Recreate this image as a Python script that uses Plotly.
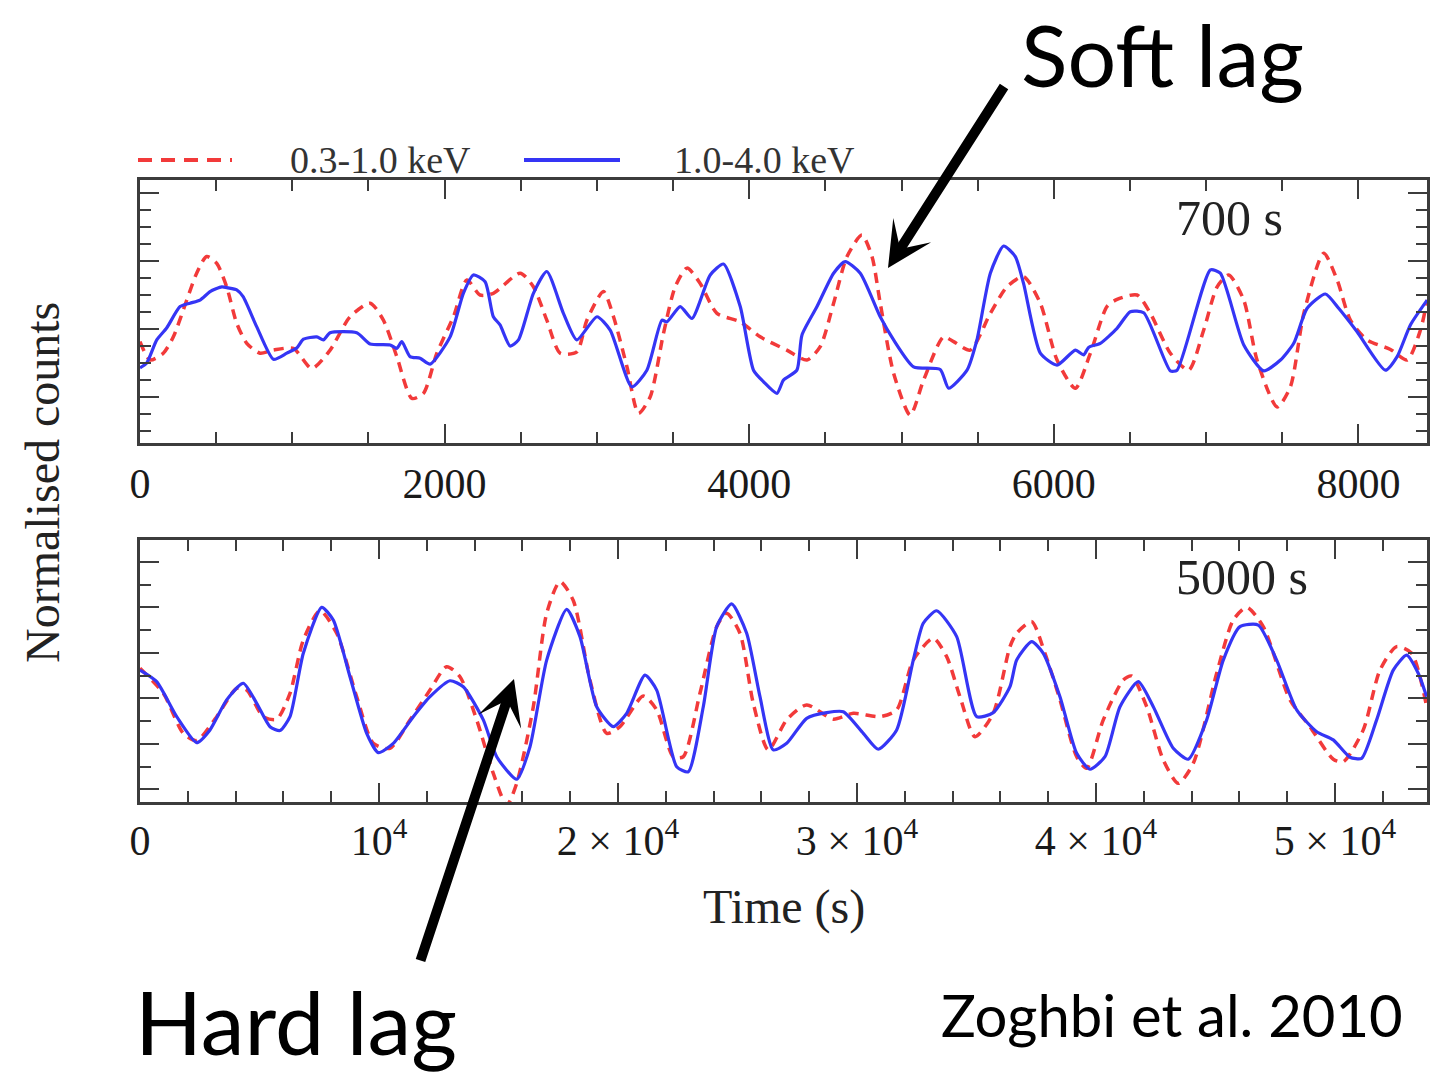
import plotly.graph_objects as go

# ---------------- data ----------------
# Top panel (700 s smoothing): time in s, normalised counts
top_time_hard = [0,44,110,175,263,328,394,460,537,578,
                 635,677,766,876,964,1029,1073,1161,1204,1248,
                 1423,1511,1642,1686,1719,1773,1839,1905,2036,2123,
                 2189,2266,2320,2364,2430,2485,2583,2671,2780,2868,
                 3000,3087,3229,3328,3427,3459,3547,3624,3744,3831,
                 3941,4028,4094,4182,4225,4313,4346,4445,4554,4630,
                 4729,4860,4948,5079,5254,5309,5430,5495,5583,5670,
                 5747,5801,5911,6021,6141,6196,6228,6305,6415,6502,
                 6590,6765,6809,7028,7093,7247,7378,7488,7575,7663,
                 7783,7870,7991,8177,8254,8341,8451]
top_counts_hard = [0.886,0.900,0.968,1.003,1.066,1.076,1.085,1.110,1.124,1.121,
                   1.115,1.095,1.007,0.911,0.929,0.944,0.970,0.977,0.968,0.989,
                   0.989,0.956,0.953,0.943,0.963,0.919,0.914,0.897,0.977,1.105,
                   1.159,1.139,1.036,1.012,0.950,0.968,1.105,1.169,1.046,0.968,
                   1.036,0.997,0.830,0.879,1.026,1.021,1.066,1.031,1.159,1.191,
                   1.066,0.879,0.845,0.811,0.850,0.879,0.982,1.066,1.164,1.198,
                   1.164,1.036,0.968,0.889,0.881,0.826,0.879,0.968,1.164,1.244,
                   1.213,1.134,0.929,0.894,0.938,0.924,0.946,0.958,1.002,1.051,
                   1.048,0.877,0.879,1.174,1.164,0.953,0.877,0.909,0.958,1.061,
                   1.103,1.061,0.992,0.879,0.919,1.012,1.085]

top_time_soft = [0,66,153,219,307,372,438,504,569,635,
                 701,788,876,1007,1128,1248,1379,1511,1598,1686,
                 1785,1861,1949,2058,2146,2233,2320,2496,2583,2671,
                 2759,2868,2934,3043,3109,3197,3273,3350,3437,3514,
                 3591,3678,3788,3941,4072,4247,4379,4466,4554,4642,
                 4740,4806,4860,4948,5057,5145,5276,5342,5451,5583,
                 5692,5801,5911,6021,6141,6240,6349,6415,6546,6634,
                 6765,6885,6984,7072,7148,7247,7334,7466,7553,7641,
                 7772,7860,7947,8057,8210,8320,8407,8451]
top_counts_soft = [0.963,0.909,0.929,0.977,1.085,1.164,1.213,1.193,1.124,1.017,
                   0.958,0.929,0.938,0.943,0.884,0.938,1.036,1.076,1.026,0.919,
                   0.796,0.811,0.929,1.036,1.144,1.100,1.105,1.164,1.124,1.026,
                   0.929,0.933,1.026,1.110,1.036,0.889,0.752,0.801,0.987,1.124,
                   1.179,1.134,1.046,1.021,0.977,0.938,0.909,0.948,1.076,1.213,
                   1.276,1.213,1.076,0.870,0.747,0.850,0.977,0.963,0.938,1.046,
                   1.124,1.154,1.076,0.909,0.826,0.929,1.066,1.087,1.100,1.046,
                   0.929,0.879,0.997,1.124,1.159,1.085,0.909,0.771,0.830,1.046,
                   1.223,1.144,1.026,0.968,0.940,0.909,0.997,1.085]

# Bottom panel (5000 s smoothing)
bot_time_hard = [0,699,1536,2372,2929,3627,4322,4882,5439,5858,
                 6276,6833,7602,8088,8786,9485,9971,10598,11435,12134,
                 12970,13527,14364,14924,15761,16318,17016,17853,18410,19108,
                 19803,20363,21129,21619,22455,22941,23569,24129,24757,25384,
                 25941,26497,27058,27895,28731,29426,30263,30890,31660,32355,
                 32773,33334,34171,35007,35702,36401,36681,37309,37794,38493,
                 39192,39748,40376,41004,41769,42397,43234,43861,44631,45326,
                 46024,46790,47560,48397,49234,49928,50626,51116,51743,52438,
                 52999,53484,53835]
bot_counts_hard = [1.124,1.073,0.919,0.805,0.861,0.993,1.066,0.978,0.875,0.858,
                   0.919,1.198,1.400,1.344,1.095,0.846,0.761,0.802,0.919,1.007,
                   1.077,1.051,0.905,0.743,0.644,0.787,1.168,1.391,1.271,0.963,
                   0.875,0.934,1.102,1.036,0.699,0.677,0.963,1.315,1.415,1.286,
                   1.007,0.773,0.802,0.912,0.937,0.941,0.846,0.776,0.861,1.168,
                   1.330,1.385,1.271,0.919,0.937,1.051,1.168,1.249,1.198,1.007,
                   0.758,0.688,0.743,0.963,1.073,0.963,0.780,0.732,0.905,1.168,
                   1.315,1.322,1.168,0.949,0.853,0.817,0.741,0.736,0.905,1.124,
                   1.190,1.110,1.007]

bot_time_soft = [0,975,1812,2372,3209,4046,4464,5159,5720,6276,
                 6833,7531,8230,9067,9761,10460,11297,12134,12832,13389,
                 14088,14782,15343,15761,16457,17016,17573,18129,18828,19527,
                 20083,21058,21619,22313,22731,23430,24129,24547,25104,25660,
                 26288,27058,27895,29008,29845,30962,31660,32355,33192,33752,
                 34309,34936,35702,36401,36681,37309,37865,38493,39192,39610,
                 40305,41142,41493,42121,42815,43443,44071,45050,45744,46305,
                 46999,48116,48953,49928,50346,51183,51882,52580,53208,53835]
bot_counts_soft = [1.132,1.022,0.846,0.814,0.919,1.044,1.036,0.919,0.908,1.022,
                   1.256,1.385,1.286,1.007,0.802,0.780,0.905,1.036,1.139,1.095,
                   0.905,0.670,0.530,0.626,0.963,1.374,1.513,1.430,1.080,0.846,
                   0.875,1.010,0.949,0.743,0.743,1.022,1.315,1.374,1.286,0.978,
                   0.773,0.905,0.971,0.908,0.934,0.919,0.949,1.168,1.264,1.183,
                   1.007,0.831,0.934,1.227,1.286,1.337,1.198,0.993,0.743,0.692,
                   0.905,1.080,1.098,0.963,0.729,0.626,0.714,1.110,1.344,1.400,
                   1.315,0.993,0.875,0.732,0.721,0.861,1.124,1.227,1.198,0.963]

top_xticks = [0, 2000, 4000, 6000, 8000]
top_xlabels = ["0", "2000", "4000", "6000", "8000"]
bot_xticks = [0, 10000, 20000, 30000, 40000, 50000]
bot_xlabels = ["0", "10<sup>4</sup>", "2 × 10<sup>4</sup>", "3 × 10<sup>4</sup>",
               "4 × 10<sup>4</sup>", "5 × 10<sup>4</sup>"]
series_names = ["0.3-1.0 keV", "1.0-4.0 keV"]
panel_labels = ["700 s", "5000 s"]

# ---------------- styling ----------------
RED = "#f23a3a"
BLUE = "#3535f5"
FRAME = "#3c3c3c"
SERIF = "Liberation Serif"
SANS = "Lato"
W, H = 1441, 1076

def px(x):
    return x / W

def py(y):
    return 1 - y / H

fig = go.Figure()
soft_line = dict(color=RED, width=3.5, dash="10px,7px", shape="spline", smoothing=0.7)
hard_line = dict(color=BLUE, width=3.2, shape="spline", smoothing=0.6)

fig.add_trace(go.Scatter(x=top_time_soft, y=top_counts_soft, mode="lines", name=series_names[0],
                         line=soft_line, xaxis="x", yaxis="y", showlegend=False))
fig.add_trace(go.Scatter(x=top_time_hard, y=top_counts_hard, mode="lines", name=series_names[1],
                         line=hard_line, xaxis="x", yaxis="y", showlegend=False))
fig.add_trace(go.Scatter(x=bot_time_soft, y=bot_counts_soft, mode="lines", name=series_names[0],
                         line=soft_line, xaxis="x2", yaxis="y2", showlegend=False))
fig.add_trace(go.Scatter(x=bot_time_hard, y=bot_counts_hard, mode="lines", name=series_names[1],
                         line=hard_line, xaxis="x2", yaxis="y2", showlegend=False))

xdom = [px(140), px(1427)]
top_dom = [py(443), py(180)]
bot_dom = [py(802), py(540)]

common = dict(showline=True, linewidth=3, linecolor=FRAME, mirror="allticks",
              ticks="inside", ticklen=19, tickwidth=2, tickcolor=FRAME,
              showgrid=False, zeroline=False, automargin=False)
tickfont = dict(family=SERIF, size=42, color="#1a1a1a")

fig.update_layout(
    width=W, height=H,
    margin=dict(l=0, r=0, t=0, b=0, autoexpand=False),
    paper_bgcolor="white", plot_bgcolor="white",
    xaxis=dict(domain=xdom, range=[0, 8450], anchor="y", tickmode="array",
               tickvals=top_xticks, ticktext=top_xlabels, tickfont=tickfont,
               ticklabelstandoff=2,
               minor=dict(tick0=0, dtick=500, ticks="inside", ticklen=11,
                          tickwidth=2, tickcolor=FRAME), **common),
    yaxis=dict(domain=top_dom, range=[0.665, 1.438], anchor="x", showticklabels=False,
               tick0=0, dtick=0.2,
               minor=dict(tick0=0, dtick=0.05, ticks="inside", ticklen=11,
                          tickwidth=2, tickcolor=FRAME), **common),
    xaxis2=dict(domain=xdom, range=[0, 53850], anchor="y2", tickmode="array",
                tickvals=bot_xticks, ticktext=bot_xlabels, tickfont=tickfont,
                ticklabelstandoff=0,
                minor=dict(tick0=0, dtick=2000, ticks="inside", ticklen=11,
                           tickwidth=2, tickcolor=FRAME), **common),
    yaxis2=dict(domain=bot_dom, range=[0.544, 1.696], anchor="x2", showticklabels=False,
                tick0=0, dtick=0.2,
                minor=dict(tick0=0, dtick=0.1, ticks="inside", ticklen=11,
                           tickwidth=2, tickcolor=FRAME), **common),
)

# legend drawn by hand above the top panel
shapes = [
    dict(type="line", xref="paper", yref="paper", x0=px(138), x1=px(232), y0=py(160), y1=py(160),
         line=dict(color=RED, width=4, dash="14px,9px")),
    dict(type="line", xref="paper", yref="paper", x0=px(524), x1=px(620), y0=py(160), y1=py(160),
         line=dict(color=BLUE, width=4)),
]
fig.update_layout(shapes=shapes)

ann = []
ann.append(dict(text=series_names[0], x=px(380), y=py(160), xref="paper", yref="paper",
                showarrow=False, xanchor="center", yanchor="middle",
                font=dict(family=SERIF, size=38, color="#333333")))
ann.append(dict(text=series_names[1], x=px(765), y=py(160), xref="paper", yref="paper",
                showarrow=False, xanchor="center", yanchor="middle",
                font=dict(family=SERIF, size=38, color="#333333")))
ann.append(dict(text=panel_labels[0], x=px(1229), y=py(218), xref="paper", yref="paper",
                showarrow=False, xanchor="center", yanchor="middle",
                font=dict(family=SERIF, size=50, color="#222222")))
ann.append(dict(text=panel_labels[1], x=px(1242), y=py(577), xref="paper", yref="paper",
                showarrow=False, xanchor="center", yanchor="middle",
                font=dict(family=SERIF, size=50, color="#222222")))
ann.append(dict(text="Time (s)", x=px(784), y=py(907), xref="paper", yref="paper",
                showarrow=False, xanchor="center", yanchor="middle",
                font=dict(family=SERIF, size=48, color="#222222")))
ann.append(dict(text="Normalised counts", x=px(42), y=py(483), xref="paper", yref="paper",
                showarrow=False, xanchor="center", yanchor="middle", textangle=-90,
                font=dict(family=SERIF, size=48, color="#222222")))
# big sans annotations
ann.append(dict(text="Soft lag", x=px(1162), y=1.0, xref="paper", yref="paper",
                showarrow=False, xanchor="center", yanchor="top",
                font=dict(family=SANS, size=86, color="black")))
ann.append(dict(text="Hard lag", x=px(296), y=py(1021), xref="paper", yref="paper",
                showarrow=False, xanchor="center", yanchor="middle",
                font=dict(family=SANS, size=88, color="black")))
ann.append(dict(text="Zoghbi et al. 2010", x=px(1172), y=py(1014), xref="paper", yref="paper",
                showarrow=False, xanchor="center", yanchor="middle",
                font=dict(family=SANS, size=58, color="black")))
# arrows
ann.append(dict(text="", x=px(888), y=py(268), xref="paper", yref="paper",
                showarrow=True, ax=117, ay=-183, arrowhead=3, arrowsize=0.75,
                arrowwidth=10, arrowcolor="black", standoff=0))
ann.append(dict(text="", x=px(514), y=py(679), xref="paper", yref="paper",
                showarrow=True, ax=-94, ay=283, arrowhead=3, arrowsize=0.75,
                arrowwidth=10, arrowcolor="black", standoff=0))
fig.update_layout(annotations=ann)

fig.write_html("out.html")
